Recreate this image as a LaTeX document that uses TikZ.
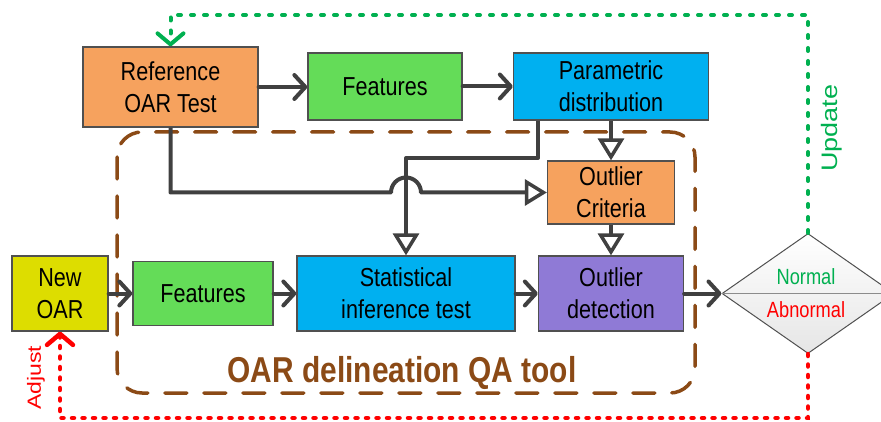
\documentclass[tikz,border=0pt]{standalone}
\usepackage{fontspec}
\usepackage{graphicx}
\setmainfont{Liberation Sans}
\newfontfamily\hfont{Liberation Sans}[FakeStretch=0.83]
\usetikzlibrary{arrows.meta,shapes.geometric,calc}
\definecolor{orangeC}{HTML}{F6A25E}
\definecolor{greenC}{HTML}{64DC58}
\definecolor{blueC}{HTML}{00B0F0}
\definecolor{yellowC}{HTML}{DDDD00}
\definecolor{purpleC}{HTML}{8F7AD6}
\definecolor{lineC}{HTML}{404040}
\definecolor{edgeC}{HTML}{505050}
\definecolor{brownC}{HTML}{8B4A16}
\definecolor{greenT}{HTML}{00B050}
\definecolor{redT}{HTML}{FF0000}
\begin{document}
\begin{tikzpicture}[x=1pt,y=-1pt,
  box/.style={draw=edgeC, line width=1.3pt, inner sep=0pt, align=center,
    font=\hfont\fontsize{26}{32}\selectfont},
  flow/.style={draw=lineC, line width=4pt, line cap=round,
    -{Straight Barb[round,length=11pt,width=24pt]}},
  tri/.style={draw=lineC, line width=4pt, line join=round,
    -{Triangle[length=22pt,width=26pt,fill=white,line width=3.5pt]}},
  upd/.style={draw=greenT, line width=4pt, line cap=round, dash pattern=on 3pt off 10pt,
    -{Straight Barb[round,length=11pt,width=26pt]}},
  adj/.style={draw=redT, line width=4.5pt, line cap=round, dash pattern=on 2pt off 8.5pt,
    -{Straight Barb[round,length=11pt,width=26pt]}},
  qabox/.style={draw=brownC, line width=3.5pt, line cap=round, dash pattern=on 22pt off 17pt,
    rounded corners=25pt}
]
\useasboundingbox (0,0) rectangle (881,422);
\clip (0,0) rectangle (881,422);

% QA tool frame
\draw[qabox] (117,132) rectangle (695,393);

% nodes
\node[box, fill=orangeC, minimum width=175pt, minimum height=80pt] (ref) at (170.5,87) {Reference\\OAR Test};
\node[box, fill=greenC, minimum width=154pt, minimum height=67pt] (feat1) at (385,86.5) {Features};
\node[box, fill=blueC, minimum width=195pt, minimum height=67pt] (param) at (611,86.5) {Parametric\\distribution};
\node[box, fill=orangeC, minimum width=127pt, minimum height=63pt] (crit) at (611,192.5) {Outlier\\Criteria};
\node[box, fill=yellowC, minimum width=96pt, minimum height=75pt] (newoar) at (60,293.5) {New\\OAR};
\node[box, fill=greenC, minimum width=140pt, minimum height=64pt] (feat2) at (203,293.5) {Features};
\node[box, fill=blueC, minimum width=218pt, minimum height=75pt] (stat) at (406,293.5) {Statistical\\inference test};
\node[box, fill=purpleC, minimum width=145pt, minimum height=75pt] (det) at (611,293.5) {Outlier\\detection};
\node[diamond, draw=edgeC, line width=1pt, top color=white, bottom color=black!10,
  minimum width=172pt, minimum height=120pt, inner sep=0pt] (dec) at (808,293.5) {};
\draw[draw=black!45, line width=1.3pt] (dec.west) -- (dec.east);
\node[font=\hfont\fontsize{22}{26}\selectfont, text=greenT, anchor=base] (nrm) at (806,284) {Normal};
\node[font=\hfont\fontsize{22}{26}\selectfont, text=redT, anchor=base] (abn) at (806,317) {Abnormal};

% connectors
\draw[flow] (ref.east) -- (ref.east -| feat1.west);
\draw[flow] (feat1.east) -- (param.west);
\draw[flow] (newoar.east) -- (feat2.west);
\draw[flow] (feat2.east) -- (stat.west);
\draw[flow] (stat.east) -- (det.west);
\draw[flow] (det.east) -- (dec.west);
\draw[tri] (param.south) -- (crit.north);
\draw[tri] (crit.south) -- (det.north);

\coordinate (elb) at (538,158);
\draw[tri] (param.south -| elb) -- (elb) -| (stat.north);
\coordinate (jmp) at (stat.north |- crit.west);
\draw[tri] (ref.south) |- ($(jmp)+(-15pt,0pt)$) arc[start angle=180, end angle=0, radius=15pt] -- (crit.west);

% feedback loops
\coordinate (gtop) at (808,15);
\draw[upd] (dec.north) -- (gtop) -| (ref.north);
\coordinate (rbot) at (808,418);
\draw[adj] (dec.south) -- (rbot) -| (newoar.south);

% labels
\node[rotate=90, text=greenT, font=\fontsize{27}{30}\selectfont] (updlbl) at (832,128) {\scalebox{1}[0.83]{Update}};
\node[rotate=90, text=redT, font=\fontsize{23}{27}\selectfont] (adjlbl) at (36,378) {\scalebox{1}[0.83]{Adjust}};
\node[font=\hfont\bfseries\fontsize{36}{40}\selectfont, text=brownC, anchor=base] (title) at (402,382) {OAR delineation QA tool};
\end{tikzpicture}
\end{document}
